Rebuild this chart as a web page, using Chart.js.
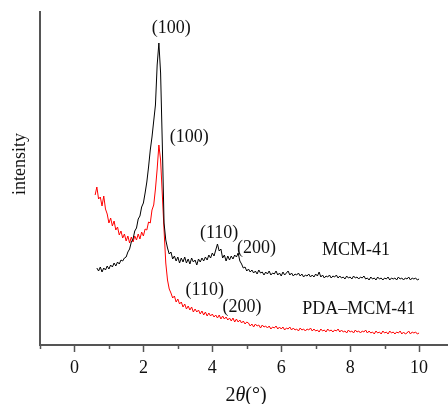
<!DOCTYPE html>
<html lang="en">
<head>
<meta charset="UTF-8">
<title>XRD MCM-41</title>
<script src="https://cdn.jsdelivr.net/npm/chart.js"></script>
<style>
  html, body { margin: 0; padding: 0; background: #fff; }
  #wrap { width: 448px; height: 404px; }
</style>
</head>
<body>
<div id="wrap"><canvas id="xrd" width="448" height="404"></canvas></div>
<script>
// 2theta grid (degrees)
var twoTheta = [
  0.60, 0.65, 0.70, 0.75, 0.80, 0.85, 0.90, 0.95, 1.00, 1.05,
  1.10, 1.15, 1.20, 1.25, 1.30, 1.35, 1.40, 1.45, 1.50, 1.55,
  1.60, 1.65, 1.70, 1.75, 1.80, 1.85, 1.90, 1.95, 2.00, 2.05,
  2.10, 2.15, 2.20, 2.25, 2.30, 2.35, 2.40, 2.45, 2.50, 2.55,
  2.60, 2.65, 2.70, 2.75, 2.80, 2.85, 2.90, 2.95, 3.00, 3.05,
  3.10, 3.15, 3.20, 3.25, 3.30, 3.35, 3.40, 3.45, 3.50, 3.55,
  3.60, 3.65, 3.70, 3.75, 3.80, 3.85, 3.90, 3.95, 4.00, 4.05,
  4.10, 4.15, 4.20, 4.25, 4.30, 4.35, 4.40, 4.45, 4.50, 4.55,
  4.60, 4.65, 4.70, 4.75, 4.80, 4.85, 4.90, 4.95, 5.00,
  5.05, 5.10, 5.15, 5.20, 5.25, 5.30, 5.35, 5.40, 5.45, 5.50,
  5.55, 5.60, 5.65, 5.70, 5.75, 5.80, 5.85, 5.90, 5.95, 6.00,
  6.05, 6.10, 6.15, 6.20, 6.25, 6.30, 6.35, 6.40, 6.45, 6.50,
  6.55, 6.60, 6.65, 6.70, 6.75, 6.80, 6.85, 6.90, 6.95, 7.00,
  7.05, 7.10, 7.15, 7.20, 7.25, 7.30, 7.35, 7.40, 7.45, 7.50,
  7.55, 7.60, 7.65, 7.70, 7.75, 7.80, 7.85, 7.90, 7.95, 8.00,
  8.05, 8.10, 8.15, 8.20, 8.25, 8.30, 8.35, 8.40, 8.45, 8.50,
  8.55, 8.60, 8.65, 8.70, 8.75, 8.80, 8.85, 8.90, 8.95, 9.00,
  9.05, 9.10, 9.15, 9.20, 9.25, 9.30, 9.35, 9.40, 9.45, 9.50,
  9.55, 9.60, 9.65, 9.70, 9.75, 9.80, 9.85, 9.90, 9.95, 10.00
];

// MCM-41 intensity (a.u.)
var mcm41 = [
  null, 77, 74, 78, 73, 77, 75, 79, 76, 80,
  78, 82, 79, 83, 81, 85, 84, 87, 88, 93,
  96, 103, 106, 114, 117, 126, 129, 138, 142, 152,
  163, 178, 195, 208, 224, 240, 280, 302, 272, 200,
  122, 105, 97, 91, 93, 86, 89, 84, 88, 82,
  87, 83, 88, 82, 86, 81, 87, 83, 85, 80,
  86, 83, 87, 84, 88, 85, 90, 87, 92, 89,
  95, 101, 94, 96, 87, 90, 84, 89, 85, 89,
  86, 90, 88, 92, 84, 81, 77, 78, 74,
  76, 73, 75, 72, 74, 71, 75, 72, 73, 70,
  73, 71, 74, 70, 72, 71, 74, 70, 72, 69,
  73, 70, 72, 74, 70, 72, 69, 71, 70, 72,
  69, 71, 68, 70, 69, 71, 68, 70, 68, 71,
  69, 73, 68, 70, 67, 69, 68, 70, 67, 69,
  68, 70, 67, 69, 67, 68, 66, 69, 67, 68,
  66, 69, 67, 68, 66, 68, 67, 69, 66, 67,
  65, 68, 66, 67, 65, 68, 66, 67, 65, 67,
  66, 68, 65, 67, 66, 67, 65, 68, 66, 67,
  65, 67, 66, 68, 65, 67, 66, 67, 65, 66
];

// PDA-MCM-41 intensity (a.u.)
var pdaMcm41 = [
  150, 158, 146, 148, 139, 149, 136, 131, 122, 127,
  119, 124, 115, 118, 110, 114, 107, 111, 104, 109,
  102, 108, 103, 109, 105, 111, 106, 113, 109, 116,
  115, 123, 122, 135, 140, 156, 176, 200, 185, 150,
  115, 82, 65, 56, 52, 47, 49, 43, 46, 41,
  43, 38, 41, 36, 39, 35, 38, 33, 36, 33,
  35, 31, 34, 30, 33, 29, 32, 29, 31, 28,
  30, 27, 30, 26, 29, 26, 28, 25, 27, 24,
  27, 23, 26, 23, 25, 22, 24, 21, 23,
  22, 19, 21, 18, 21, 19, 20, 17, 20, 18,
  19, 17, 19, 16, 18, 17, 19, 16, 18, 16,
  18, 15, 17, 16, 18, 15, 17, 15, 16, 14,
  17, 15, 16, 14, 16, 15, 17, 14, 16, 14,
  15, 13, 16, 14, 15, 13, 16, 14, 15, 13,
  15, 14, 16, 13, 15, 13, 14, 12, 15, 13,
  14, 12, 15, 13, 14, 12, 14, 13, 15, 12,
  14, 12, 13, 11, 14, 12, 13, 11, 14, 12,
  13, 11, 14, 12, 13, 11, 13, 12, 14, 11,
  13, 11, 12, 14, 11, 13, 12, 13, 11, 12
];

var xTickValues = [-1, 0, 1, 2, 3, 4, 5, 6, 7, 8, 9, 10];

// peak indices and sample names, anchored in data coordinates
var peakLabels = ['(100)', '(100)', '(110)', '(200)', 'MCM-41', '(110)', '(200)', 'PDA\u2013MCM-41'];
var peakLabelX = [2.81, 3.33, 4.20, 5.28, 8.17, 3.78, 4.86, 8.25];
var peakLabelY = [317, 208, 112, 97, 95, 55, 38, 36];

var SERIF = '"Liberation Serif", "DejaVu Serif", serif';

function toPoints(xs, ys) {
  return xs.map(function (x, i) { return { x: x, y: ys[i] }; });
}

// minor/major tick marks, peak labels and axis titles
var decorations = {
  id: 'decorations',
  afterDraw: function (chart) {
    var ctx = chart.ctx;
    var xs = chart.scales.x, ys = chart.scales.y;
    var area = chart.chartArea;

    ctx.save();
    ctx.strokeStyle = '#555';
    ctx.lineWidth = 1.5;
    xTickValues.forEach(function (v) {
      var px = Math.round(xs.getPixelForValue(v)) + 0.5;
      var len = (v % 2 === 0) ? 7 : 4;
      ctx.beginPath();
      ctx.moveTo(px, area.bottom);
      ctx.lineTo(px, area.bottom + len);
      ctx.stroke();
    });

    ctx.fillStyle = '#111';
    ctx.font = '18px ' + SERIF;
    ctx.textAlign = 'center';
    ctx.textBaseline = 'middle';
    peakLabels.forEach(function (t, i) {
      ctx.fillText(t, xs.getPixelForValue(peakLabelX[i]), ys.getPixelForValue(peakLabelY[i]));
    });

    // y title
    ctx.save();
    ctx.translate(20, 164);
    ctx.rotate(-Math.PI / 2);
    ctx.fillText('intensity', 0, 0);
    ctx.restore();

    // x title: 2θ(°) with italic theta
    var parts = [
      { t: '2', f: '20px ' + SERIF },
      { t: '\u03B8', f: 'italic 20px ' + SERIF },
      { t: '(\u00B0)', f: '20px ' + SERIF }
    ];
    var total = 0;
    parts.forEach(function (p) { ctx.font = p.f; p.w = ctx.measureText(p.t).width; total += p.w; });
    var cx = 246 - total / 2;
    ctx.textAlign = 'left';
    ctx.textBaseline = 'alphabetic';
    parts.forEach(function (p) {
      ctx.font = p.f;
      ctx.fillText(p.t, cx, 401);
      cx += p.w;
    });
    ctx.restore();
  }
};

new Chart(document.getElementById('xrd'), {
  type: 'line',
  data: {
    datasets: [
      {
        label: 'MCM-41',
        data: toPoints(twoTheta, mcm41),
        borderColor: '#000000',
        borderWidth: 1,
        pointRadius: 0,
        tension: 0
      },
      {
        label: 'PDA-MCM-41',
        data: toPoints(twoTheta, pdaMcm41),
        borderColor: '#ff0000',
        borderWidth: 1,
        pointRadius: 0,
        tension: 0
      }
    ]
  },
  options: {
    responsive: false,
    animation: false,
    events: [],
    layout: { padding: { top: 12, right: 0, bottom: 0, left: 0 } },
    plugins: {
      legend: { display: false },
      tooltip: { enabled: false }
    },
    scales: {
      x: {
        type: 'linear',
        min: -1,
        max: 10.84,
        afterBuildTicks: function (scale) {
          scale.ticks = xTickValues.map(function (v) { return { value: v }; });
        },
        afterFit: function (scale) { scale.height = 59; },
        grid: { display: false, drawTicks: false },
        border: { display: true, color: '#555', width: 2 },
        ticks: {
          autoSkip: false,
          maxRotation: 0,
          padding: 12,
          color: '#111',
          font: { family: SERIF, size: 18 },
          callback: function (v) { return (v % 2 === 0 && v >= 0) ? String(v) : ''; }
        }
      },
      y: {
        min: 0,
        max: 333,
        afterFit: function (scale) { scale.width = 40; },
        grid: { display: false, drawTicks: false },
        border: { display: true, color: '#555', width: 2 },
        ticks: { display: false }
      }
    }
  },
  plugins: [decorations]
});
</script>
</body>
</html>
